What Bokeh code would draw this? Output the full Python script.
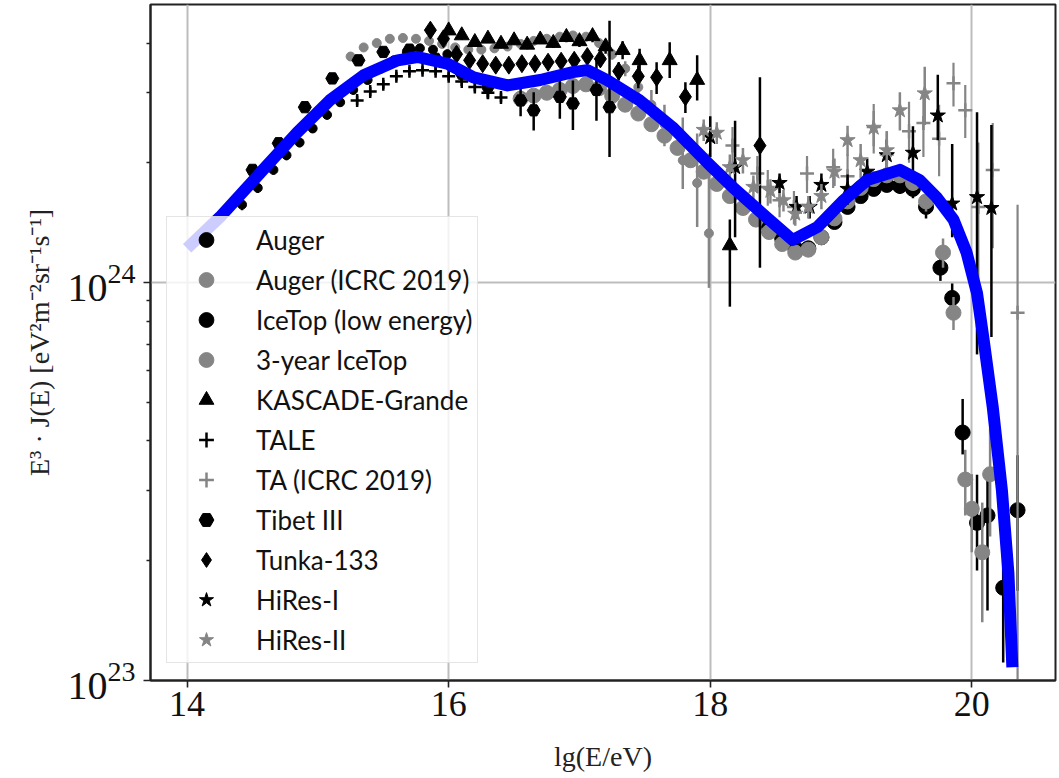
import numpy as np
from bokeh.plotting import figure
from bokeh.models import Range1d, FixedTicker, Legend, LegendItem
from bokeh.embed import file_html
from bokeh.resources import INLINE

UNIT = 1e24  # all values below are in units of 1e24 eV^2 m^-2 sr^-1 s^-1

x_ticks = [14, 16, 18, 20]
y_ticks = [1e23, 1e24]
y_minor = [2e23, 3e23, 4e23, 5e23, 6e23, 7e23, 8e23, 9e23, 2e24, 3e24, 4e24]

# ---- data sets (lg E, value, lower error, upper error) ----
auger_x = [18.45, 18.55, 18.65, 18.75, 18.85, 18.95, 19.05, 19.15, 19.25, 19.35,
           19.45, 19.55, 19.65, 19.76, 19.85, 19.93, 20.04, 20.12, 20.24, 20.35]
auger_y = [1.38, 1.29, 1.22, 1.22, 1.30, 1.42, 1.55, 1.65, 1.72, 1.76,
           1.75, 1.72, 1.55, 1.09, 0.915, 0.42, 0.249, 0.26, 0.171, 0.268]
auger_lo = [0.03, 0.03, 0.03, 0.03, 0.03, 0.04, 0.05, 0.05, 0.06, 0.07,
            0.08, 0.09, 0.10, 0.08, 0.08, 0.05, 0.06, 0.11, 0.06, 0.10]
auger_hi = [0.03, 0.03, 0.03, 0.03, 0.03, 0.04, 0.05, 0.05, 0.06, 0.07,
            0.08, 0.09, 0.10, 0.08, 0.08, 0.09, 0.08, 0.07, 0.06, 0.10]

augi_x = [16.55, 16.65, 16.75, 16.85, 16.95, 17.05, 17.15, 17.25, 17.35, 17.45,
          17.55, 17.65, 17.75, 17.85, 17.95, 18.05, 18.15, 18.25, 18.35, 18.45,
          18.55, 18.65, 18.75, 18.85, 18.95, 19.05, 19.15, 19.25, 19.35, 19.45,
          19.55, 19.65, 19.78, 19.86, 19.95, 20.00, 20.08, 20.14]
augi_y = [2.90, 2.95, 3.00, 3.05, 3.12, 3.15, 3.08, 2.95, 2.80, 2.66,
          2.50, 2.34, 2.18, 2.03, 1.90, 1.77, 1.65, 1.54, 1.44, 1.34,
          1.25, 1.19, 1.21, 1.30, 1.45, 1.60, 1.73, 1.82, 1.86, 1.86,
          1.78, 1.60, 1.19, 0.84, 0.32, 0.27, 0.21, 0.33]
augi_err = [0.06, 0.06, 0.06, 0.06, 0.06, 0.07, 0.07, 0.07, 0.06, 0.06,
            0.05, 0.05, 0.05, 0.05, 0.04, 0.04, 0.04, 0.04, 0.03, 0.03,
            0.03, 0.03, 0.03, 0.03, 0.04, 0.04, 0.05, 0.05, 0.06, 0.07,
            0.08, 0.09, 0.10, 0.08, 0.06, 0.06, 0.07, 0.10]

icl_x = [14.42, 14.54, 14.66, 14.76, 14.86, 14.96, 15.07, 15.17, 15.27, 15.38,
         15.48, 15.58, 15.68, 15.78, 15.88, 15.99]
icl_y = [1.57, 1.73, 1.92, 2.09, 2.25, 2.44, 2.64, 2.84, 3.05, 3.23,
         3.45, 3.62, 3.80, 3.88, 3.85, 3.75]
icl_err = [0.05, 0.05, 0.05, 0.06, 0.06, 0.06, 0.07, 0.07, 0.08, 0.08,
           0.08, 0.09, 0.09, 0.10, 0.10, 0.10]

ic3_x = [15.25, 15.35, 15.45, 15.55, 15.65, 15.75, 15.85, 15.95, 16.05, 16.15,
         16.25, 16.35, 16.45, 16.55, 16.65, 16.75, 16.85, 16.95, 17.05, 17.15,
         17.25, 17.35, 17.45, 17.55, 17.65, 17.79, 17.90, 17.99]
ic3_y = [3.70, 3.90, 4.00, 4.10, 4.12, 4.10, 4.05, 3.98, 3.90, 3.85,
         3.85, 3.88, 3.92, 3.98, 4.05, 4.10, 4.15, 4.18, 4.15, 4.00,
         3.75, 3.45, 3.10, 2.80, 2.50, 2.03, 1.78, 1.33]
ic3_lo = [0.05, 0.05, 0.05, 0.05, 0.05, 0.05, 0.05, 0.05, 0.05, 0.05,
          0.05, 0.05, 0.05, 0.05, 0.06, 0.06, 0.07, 0.08, 0.09, 0.10,
          0.12, 0.15, 0.20, 0.25, 0.30, 0.31, 0.40, 0.36]
ic3_hi = [0.05, 0.05, 0.05, 0.05, 0.05, 0.05, 0.05, 0.05, 0.05, 0.05,
          0.05, 0.05, 0.05, 0.05, 0.06, 0.06, 0.07, 0.08, 0.09, 0.10,
          0.12, 0.15, 0.20, 0.25, 0.30, 0.57, 0.59, 0.78]

kg_x = [16.00, 16.10, 16.20, 16.30, 16.40, 16.50, 16.60, 16.70, 16.80, 16.90,
        17.00, 17.10, 17.20, 17.33, 17.46, 17.69, 17.90, 18.15]
kg_y = [4.30, 4.18, 4.02, 4.10, 3.98, 4.06, 3.96, 4.08, 4.00, 4.14,
        4.04, 4.16, 3.92, 3.84, 3.62, 3.62, 3.23, 1.24]
kg_lo = [0.10, 0.10, 0.10, 0.10, 0.10, 0.10, 0.10, 0.10, 0.11, 0.12,
         0.13, 0.14, 0.16, 0.20, 0.25, 0.35, 0.36, 0.37]
kg_hi = [0.10, 0.10, 0.10, 0.10, 0.10, 0.10, 0.10, 0.10, 0.11, 0.12,
         0.13, 0.14, 0.16, 0.20, 0.25, 0.40, 0.50, 0.20]

tale_x = [15.30, 15.40, 15.50, 15.60, 15.70, 15.80, 15.90, 16.00, 16.10, 16.20,
          16.30, 16.40]
tale_y = [2.87, 3.02, 3.15, 3.30, 3.40, 3.42, 3.40, 3.30, 3.20, 3.10,
          3.00, 2.92]
tale_err = [0.08, 0.08, 0.08, 0.08, 0.08, 0.08, 0.08, 0.08, 0.08, 0.08,
            0.08, 0.08]

ta_x = [18.17, 18.36, 18.44, 18.53, 18.64, 18.74, 18.94, 19.05, 19.25, 19.35,
        19.52, 19.63, 19.75, 19.86, 19.95, 20.05, 20.16, 20.35]
ta_y = [2.21, 1.88, 1.74, 1.61, 1.55, 1.88, 1.95, 1.85, 2.46, 2.10,
        2.40, 2.52, 2.30, 3.17, 2.71, 1.55, 1.92, 0.84]
ta_lo = [0.25, 0.20, 0.18, 0.15, 0.15, 0.20, 0.22, 0.25, 0.35, 0.30,
         0.40, 0.45, 0.45, 0.40, 0.40, 0.60, 0.70, 0.74]
ta_hi = [0.25, 0.20, 0.18, 0.15, 0.15, 0.20, 0.22, 0.25, 0.35, 0.30,
         0.45, 0.50, 0.50, 0.40, 0.43, 0.70, 0.60, 0.73]

tib_x = [14.50, 14.70, 14.90, 15.11, 15.31, 15.50, 15.70, 15.90, 16.10, 16.30,
         16.55, 16.65, 16.85, 16.95, 17.13, 17.23]
tib_y = [1.92, 2.24, 2.76, 3.26, 3.62, 3.80, 3.85, 3.65, 3.35, 3.10,
         2.87, 2.71, 2.93, 2.82, 3.05, 2.76]
tib_lo = [0.03, 0.04, 0.05, 0.06, 0.07, 0.08, 0.10, 0.12, 0.15, 0.20,
          0.25, 0.30, 0.35, 0.40, 0.50, 0.69]
tib_hi = [0.03, 0.04, 0.05, 0.06, 0.07, 0.08, 0.10, 0.12, 0.15, 0.20,
          0.25, 0.30, 0.35, 0.40, 0.60, 1.79]

tun_x = [15.86, 15.96, 16.06, 16.16, 16.26, 16.36, 16.46, 16.56, 16.66, 16.76,
         16.86, 16.96, 17.06, 17.16, 17.30, 17.45, 17.59, 17.81, 18.38]
tun_y = [4.31, 4.10, 3.75, 3.62, 3.55, 3.52, 3.52, 3.55, 3.55, 3.58,
         3.60, 3.62, 3.70, 3.65, 3.40, 3.30, 3.28, 2.93, 2.21]
tun_lo = [0.10, 0.10, 0.10, 0.10, 0.10, 0.10, 0.10, 0.10, 0.10, 0.10,
          0.11, 0.12, 0.13, 0.15, 0.18, 0.22, 0.30, 0.26, 1.12]
tun_hi = [0.10, 0.10, 0.10, 0.10, 0.10, 0.10, 0.10, 0.10, 0.10, 0.10,
          0.11, 0.12, 0.13, 0.15, 0.18, 0.22, 0.30, 0.26, 1.07]

hr1_x = [18.00, 18.19, 18.53, 18.66, 18.76, 18.85, 19.05, 19.20, 19.35, 19.55,
         19.74, 19.85, 20.04, 20.15]
hr1_y = [2.32, 1.95, 1.78, 1.55, 1.55, 1.76, 1.72, 1.90, 2.09, 2.12,
         2.63, 1.58, 1.64, 1.54]
hr1_lo = [0.25, 0.65, 0.10, 0.10, 0.10, 0.12, 0.15, 0.15, 0.20, 0.30,
          0.35, 0.28, 0.98, 0.81]
hr1_hi = [0.30, 0.60, 0.10, 0.10, 0.10, 0.12, 0.15, 0.15, 0.20, 0.35,
          0.70, 0.65, 1.04, 0.95]

hr2_x = [17.95, 18.05, 18.15, 18.25, 18.33, 18.46, 18.56, 18.65, 18.75, 18.85,
         18.95, 19.05, 19.15, 19.25, 19.35, 19.45, 19.64]
hr2_y = [2.42, 2.38, 1.95, 2.03, 1.74, 1.70, 1.61, 1.49, 1.55, 1.65,
         1.90, 2.28, 2.03, 2.45, 2.15, 2.71, 2.99]
hr2_err = [0.15, 0.15, 0.15, 0.15, 0.12, 0.12, 0.10, 0.10, 0.10, 0.12,
           0.15, 0.20, 0.20, 0.25, 0.25, 0.30, 0.50]

model_x = [14.00, 14.25, 14.58, 14.84, 15.09, 15.35, 15.61, 15.76, 15.99, 16.19,
           16.45, 16.70, 16.95, 17.06, 17.21, 17.46, 17.71, 17.98, 18.17, 18.43,
           18.63, 18.82, 19.02, 19.20, 19.45, 19.60, 19.73, 19.86, 19.96, 20.04,
           20.09, 20.16, 20.23, 20.28, 20.31]
model_y = [1.22, 1.46, 1.92, 2.38, 2.87, 3.32, 3.62, 3.69, 3.55, 3.28,
           3.13, 3.23, 3.38, 3.42, 3.23, 2.87, 2.46, 2.00, 1.74, 1.46,
           1.28, 1.38, 1.61, 1.81, 1.92, 1.81, 1.64, 1.44, 1.19, 0.94,
           0.72, 0.487, 0.301, 0.186, 0.108]

BLACK = "#000000"
GRAY = "#858585"

p = figure(width=1059, height=778, y_axis_type="log",
           x_range=Range1d(13.72, 20.64), y_range=Range1d(1e23, 5e24),
           output_backend="svg", toolbar_location=None,
           min_border_left=150, min_border_right=4, min_border_top=4,
           min_border_bottom=98)
p.background_fill_color = "white"
p.border_fill_color = "white"
p.outline_line_color = "#222222"
p.outline_line_width = 2


def series(x, y, lo, hi, marker, color, size, lw=2.5, line_marker=False):
    y = np.asarray(y, float)
    ylo = np.maximum((y - np.asarray(lo, float)) * UNIT, 2e22)
    yhi = (y + np.asarray(hi, float)) * UNIT
    p.segment(x0=x, y0=ylo, x1=x, y1=yhi, line_color=color, line_width=lw)
    if line_marker:
        return p.scatter(x=x, y=y * UNIT, marker=marker, size=size,
                         line_color=color, line_width=2.5)
    return p.scatter(x=x, y=y * UNIT, marker=marker, size=size,
                     fill_color=color, line_color=color)


r_aug = series(auger_x, auger_y, auger_lo, auger_hi, "circle", BLACK, 15)
r_augi = series(augi_x, augi_y, augi_err, augi_err, "circle", GRAY, 15)
r_icl = series(icl_x, icl_y, icl_err, icl_err, "circle", BLACK, 9)
r_ic3 = series(ic3_x, ic3_y, ic3_lo, ic3_hi, "circle", GRAY, 9)
r_kg = series(kg_x, kg_y, kg_lo, kg_hi, "triangle", BLACK, 15)
r_tale = series(tale_x, tale_y, tale_err, tale_err, "cross", BLACK, 13, line_marker=True)
r_ta = series(ta_x, ta_y, ta_lo, ta_hi, "cross", GRAY, 14, lw=2.2, line_marker=True)
r_tib = series(tib_x, tib_y, tib_lo, tib_hi, "hex", BLACK, 13)
r_tun = series(tun_x, tun_y, tun_lo, tun_hi, "diamond", BLACK, 18)
r_hr1 = series(hr1_x, hr1_y, hr1_lo, hr1_hi, "star", BLACK, 16)
r_hr2 = series(hr2_x, hr2_y, hr2_err, hr2_err, "star", GRAY, 16)

p.line(x=model_x, y=np.asarray(model_y) * UNIT, line_color="#0000ff",
       line_width=12, line_join="round")

# axes
p.xaxis.ticker = FixedTicker(ticks=x_ticks)
p.yaxis.ticker = FixedTicker(ticks=y_ticks, minor_ticks=y_minor)
for ax in (p.xaxis[0], p.yaxis[0]):
    ax.axis_line_color = "#222222"
    ax.axis_line_width = 2
    ax.major_tick_line_color = "#222222"
    ax.major_tick_line_width = 1.6
    ax.major_tick_in = 0
    ax.major_tick_out = 7
    ax.minor_tick_line_color = "#222222"
    ax.minor_tick_line_width = 1.3
    ax.minor_tick_in = 0
    ax.minor_tick_out = 4
    ax.major_label_text_font = "Liberation Serif"
    ax.major_label_text_color = "#111111"
    ax.axis_label_text_font = "Liberation Serif"
    ax.axis_label_text_font_style = "normal"
    ax.axis_label_text_color = "#222222"
p.xaxis.major_label_text_font_size = "36px"
p.yaxis.major_label_text_font_size = "40px"
p.xaxis.minor_tick_line_color = None
p.xaxis.major_label_standoff = 4
p.yaxis.major_label_standoff = 8
p.xaxis.axis_label = "lg(E/eV)"
p.xaxis.axis_label_text_font_size = "28px"
p.xaxis.axis_label_standoff = 22
p.yaxis.axis_label = "E³ · J(E) [eV²m⁻²sr⁻¹s⁻¹]"
p.yaxis.axis_label_text_font_size = "28px"
p.yaxis.axis_label_standoff = 10

p.xgrid.grid_line_color = "#bdbdbd"
p.xgrid.grid_line_width = 2
p.ygrid.grid_line_color = "#bdbdbd"
p.ygrid.grid_line_width = 2

legend = Legend(items=[
    LegendItem(label="Auger", renderers=[r_aug]),
    LegendItem(label="Auger (ICRC 2019)", renderers=[r_augi]),
    LegendItem(label="IceTop (low energy)", renderers=[r_icl]),
    LegendItem(label="3-year IceTop", renderers=[r_ic3]),
    LegendItem(label="KASCADE-Grande", renderers=[r_kg]),
    LegendItem(label="TALE", renderers=[r_tale]),
    LegendItem(label="TA (ICRC 2019)", renderers=[r_ta]),
    LegendItem(label="Tibet III", renderers=[r_tib]),
    LegendItem(label="Tunka-133", renderers=[r_tun]),
    LegendItem(label="HiRes-I", renderers=[r_hr1]),
    LegendItem(label="HiRes-II", renderers=[r_hr2]),
], location=(16, 17))
legend.label_text_font = "Lato"
legend.label_text_font_size = "26px"
legend.label_text_color = "#111111"
legend.label_height = 37
legend.glyph_height = 37
legend.glyph_width = 70
legend.label_standoff = 15
legend.spacing = 3
legend.padding = 4
legend.margin = 0
legend.background_fill_color = "white"
legend.background_fill_alpha = 0.8
legend.border_line_color = "#cccccc"
legend.border_line_width = 1.5
p.add_layout(legend)

open("out.html", "w").write(file_html(p, INLINE))
